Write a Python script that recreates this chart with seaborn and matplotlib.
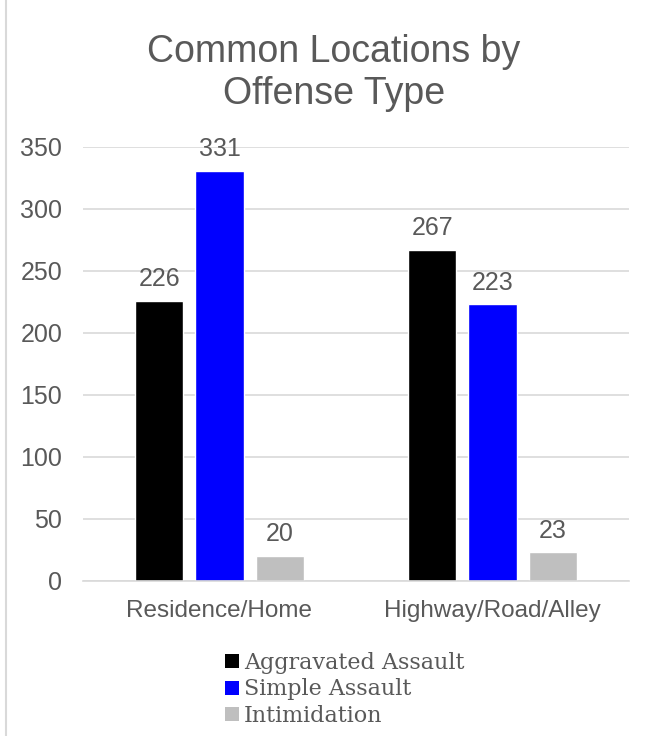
import numpy as np
import pandas as pd
import seaborn as sns
import matplotlib.pyplot as plt
from matplotlib.patches import Patch
from matplotlib.lines import Line2D

locations = ["Residence/Home", "Highway/Road/Alley"]
offenses = ["Aggravated Assault", "Simple Assault", "Intimidation"]
aggravated = [226, 267]
simple = [331, 223]
intimidation = [20, 23]
colors = ["#000000", "#0000ff", "#bfbfbf"]

df = pd.DataFrame({
    "location": locations * 3,
    "offense": [o for o in offenses for _ in locations],
    "count": aggravated + simple + intimidation,
})

sns.set_style("white")
plt.rcParams["font.family"] = ["Liberation Sans", "DejaVu Sans"]
txt = "#595959"

fig = plt.figure(figsize=(6.52, 7.36), dpi=100)
ax = fig.add_axes([83 / 652, 1 - 581 / 736, 546 / 652, 434 / 736])

sns.barplot(data=df, x="location", y="count", hue="offense", hue_order=offenses,
            palette=colors, saturation=1, width=0.66, gap=0.2, ax=ax, legend=False)

for c in ax.containers:
    ax.bar_label(c, padding=7, fontsize=18, color=txt)

ax.set_ylim(0, 350)
ax.set_yticks(range(0, 351, 50))
ax.set_xlim(-0.5, 1.5)
ax.yaxis.grid(True, color="#d9d9d9", linewidth=1.2)
ax.set_axisbelow(True)
for s in ["top", "right", "left"]:
    ax.spines[s].set_visible(False)
ax.spines["bottom"].set_color("#d9d9d9")
ax.spines["bottom"].set_linewidth(1.2)
ax.tick_params(axis="y", length=0, labelsize=18, labelcolor=txt, pad=15)
ax.tick_params(axis="x", length=0, labelsize=17.5, labelcolor=txt, pad=14)
ax.set_xlabel("")
ax.set_ylabel("")

fig.text(334 / 652, 1 - 73 / 736, "Common Locations by\nOffense Type", ha="center", va="center",
         fontsize=27, color=txt, linespacing=1.2)

handles = [Patch(facecolor=c, edgecolor="none") for c in colors]
fig.legend(handles, offenses, loc="upper center", bbox_to_anchor=(345 / 652, 1 - 632 / 736),
           frameon=False, prop={"family": "DejaVu Serif", "size": 16}, labelcolor=txt,
           handlelength=0.6, handleheight=0.6, handletextpad=0.25, labelspacing=0.2)

fig.add_artist(Line2D([6 / 652, 6 / 652], [0, 1], color="#d9d9d9", linewidth=1.5))

fig.savefig("out.png", dpi=100)
